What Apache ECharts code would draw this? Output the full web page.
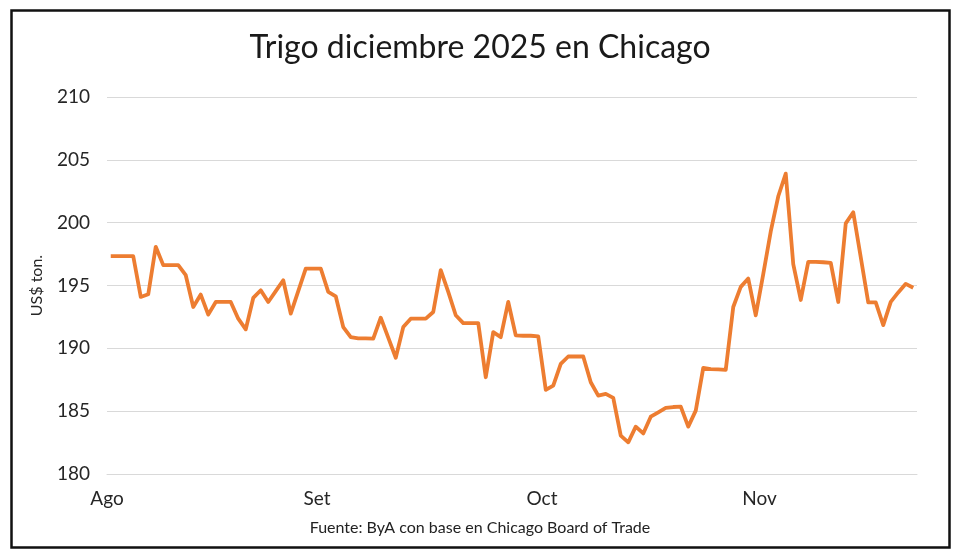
<!DOCTYPE html>
<html>
<head>
<meta charset="utf-8">
<script src="https://cdn.jsdelivr.net/npm/echarts@6/dist/echarts.min.js"></script>
<style>
  html, body { margin: 0; padding: 0; background: #fff; }
  #chart { width: 960px; height: 555px; }
</style>
</head>
<body>
<div id="chart"></div>
<script>
// Daily prices (US$ per ton), Aug -> Nov 2025
const prices = [
  197.33, 197.33, 197.33, 197.33, 194.09, 194.30, 198.08, 196.62, 196.62, 196.62,
  195.82, 193.29, 194.28, 192.68, 193.69, 193.69, 193.69, 192.36, 191.51, 194.01,
  194.62, 193.69, 194.55, 195.42, 192.76, 194.55, 196.35, 196.35, 196.35, 194.49,
  194.14, 191.69, 190.89, 190.80, 190.80, 190.77, 192.44, 190.85, 189.25, 191.69,
  192.36, 192.36, 192.36, 192.89, 196.22, 194.49, 192.63, 192.01, 192.01, 192.01,
  187.70, 191.29, 190.89, 193.69, 191.03, 191.00, 191.00, 190.95, 186.70, 187.04,
  188.77, 189.35, 189.35, 189.35, 187.30, 186.24, 186.38, 186.06, 183.05, 182.52,
  183.77, 183.23, 184.56, 184.91, 185.26, 185.33, 185.36, 183.77, 185.04, 188.45,
  188.35, 188.32, 188.29, 193.29, 194.89, 195.55, 192.63, 195.90, 199.30, 202.10,
  203.90, 196.70, 193.85, 196.88, 196.88, 196.85, 196.80, 193.69, 199.94, 200.83,
  197.25, 193.65, 193.65, 191.85, 193.70, 194.45, 195.13, 194.82
];
// Month tick labels and the index of the first session of each month
const monthLabels = ['Ago', 'Set', 'Oct', 'Nov'];
const monthIndex = [0, 28, 58, 87];
// Categories: one per session
const categories = prices.map((_, i) => String(i));
const yTicks = { min: 180, max: 210, step: 5 };

const chart = echarts.init(document.getElementById('chart'), null, { renderer: 'canvas' });
const FONT = 'Lato, "Open Sans", sans-serif';

chart.setOption({
  backgroundColor: '#ffffff',
  animation: false,
  title: {
    text: 'Trigo diciembre 2025 en Chicago',
    left: 'center',
    top: 27,
    textStyle: { fontFamily: FONT, fontSize: 32, fontWeight: 'normal', color: '#1a1a1a' }
  },
  graphic: [
    {
      type: 'rect',
      shape: { x: 11.5, y: 10.5, width: 938, height: 537 },
      style: { fill: 'none', stroke: '#111', lineWidth: 2.5 },
      silent: true
    },
    {
      type: 'text',
      left: 'center',
      top: 520,
      style: {
        text: 'Fuente: ByA con base en Chicago Board of Trade',
        fontFamily: FONT, fontSize: 16, fill: '#222'
      }
    }
  ],
  grid: { left: 107, right: 43, top: 97, bottom: 81, containLabel: false },
  xAxis: {
    type: 'category',
    data: categories,
    boundaryGap: true,
    axisLine: { show: true, lineStyle: { color: '#d9d9d9', width: 1 } },
    axisTick: { show: false },
    splitLine: { show: false },
    axisLabel: {
      interval: (i) => monthIndex.indexOf(i) >= 0,
      margin: 15,
      formatter: (v, i) => {
        const k = monthIndex.indexOf(i);
        return k >= 0 ? '{m|' + monthLabels[k] + '}' : '';
      },
      rich: {
        m: { fontFamily: FONT, fontSize: 19, color: '#262626', padding: [0, 7.5, 0, 0] }
      }
    }
  },
  yAxis: {
    type: 'value',
    min: yTicks.min,
    max: yTicks.max,
    interval: yTicks.step,
    name: 'US$ ton.',
    nameLocation: 'middle',
    nameGap: 62,
    nameRotate: 90,
    nameTextStyle: { fontFamily: FONT, fontSize: 16, color: '#262626' },
    axisLine: { show: false },
    axisTick: { show: false },
    axisLabel: { fontFamily: FONT, fontSize: 19, color: '#262626', margin: 17 },
    splitLine: { show: true, lineStyle: { color: '#d9d9d9', width: 1.2 } }
  },
  series: [{
    type: 'line',
    data: prices,
    symbol: 'none',
    smooth: false,
    lineStyle: { color: '#ED7D31', width: 3.8, join: 'round' },
    itemStyle: { color: '#ED7D31' }
  }]
});
</script>
</body>
</html>
